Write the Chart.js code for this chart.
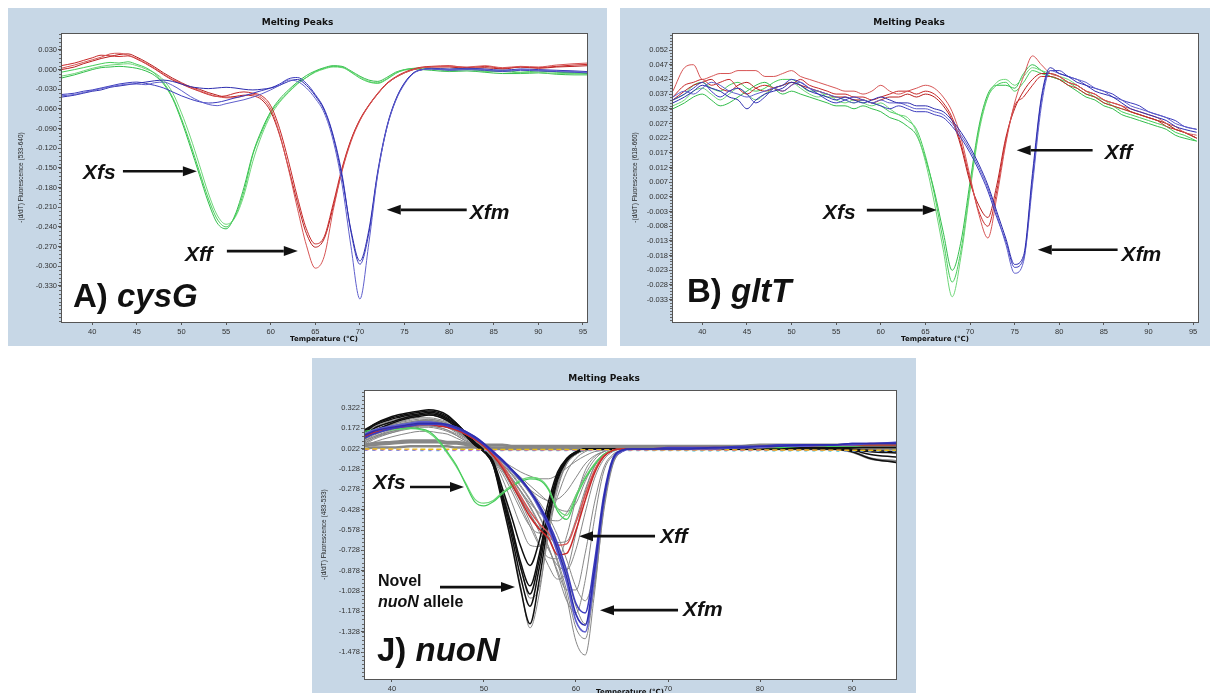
<!DOCTYPE html>
<html>
<head>
<meta charset="utf-8">
<title>Melting Peaks</title>
<script src="https://cdn.jsdelivr.net/npm/chart.js"></script>
<style>
    html, body { margin: 0; padding: 0; background: #fff; overflow: hidden; }
    #page { position: relative; width: 1213px; height: 693px; overflow: hidden; background: #fff; }
    .frame { position: absolute; background: #c7d7e6; }
    .frame canvas { display: block; }
</style>
</head>
<body>
<div id="page">
    <div class="frame" style="left:8px; top:8px; width:599px; height:338px;">
        <canvas id="chartA" width="599" height="338"></canvas>
    </div>
    <div class="frame" style="left:620px; top:8px; width:590px; height:338px;">
        <canvas id="chartB" width="590" height="338"></canvas>
    </div>
    <div class="frame" style="left:312px; top:358px; width:604px; height:341px;">
        <canvas id="chartC" width="604" height="341"></canvas>
    </div>
</div>

<script>
// --- Melting peak curves ---

// --- 1. Data: panel A (cysG) ---
const tempA = [36.5, 38, 39, 40, 41, 42, 43, 44, 45, 46, 47, 48, 49, 50, 51, 52, 53, 54, 55, 56,
    57, 58, 59, 60, 61, 62, 63, 64, 65, 66, 67, 68, 69, 70, 71, 72, 73, 74, 75, 76,
    77, 78, 80, 82, 84, 86, 88, 90, 92, 94, 95.5];

const greenA1 = [-0.004, 0.000, 0.003, 0.006, 0.009, 0.011, 0.010, 0.012, 0.008, 0.003,
    -0.006, -0.020, -0.042, -0.075, -0.113, -0.155, -0.196, -0.228, -0.240, -0.224,
    -0.186, -0.130, -0.095, -0.066, -0.048, -0.034, -0.021, -0.012, -0.003, 0.002,
    0.005, 0.004, -0.004, -0.013, -0.019, -0.021, -0.015, -0.006, 0.000, 0.002,
    0.003, 0.002, 0.000, 0.002, -0.002, -0.001, -0.004, -0.002, -0.004, -0.005, -0.006];
const greenA2 = [-0.010, -0.006, -0.002, 0.002, 0.005, 0.007, 0.008, 0.009, 0.006, 0.001,
    -0.005, -0.016, -0.035, -0.066, -0.103, -0.145, -0.188, -0.222, -0.236, -0.226,
    -0.192, -0.140, -0.100, -0.070, -0.050, -0.035, -0.022, -0.012, -0.004, 0.001,
    0.004, 0.003, -0.003, -0.011, -0.018, -0.020, -0.014, -0.005, -0.001, 0.001,
    0.002, 0.001, -0.002, 0.000, -0.003, -0.003, -0.005, -0.004, -0.006, -0.006, -0.007];
const greenA3 = [-0.013, -0.008, -0.004, 0.000, 0.003, 0.004, 0.005, 0.004, 0.002, -0.002,
    -0.009, -0.022, -0.044, -0.078, -0.118, -0.160, -0.202, -0.234, -0.243, -0.222,
    -0.180, -0.128, -0.092, -0.064, -0.045, -0.031, -0.019, -0.009, -0.002, 0.003,
    0.006, 0.005, -0.002, -0.010, -0.016, -0.018, -0.012, -0.004, 0.000, 0.001,
    0.000, -0.001, -0.003, -0.002, -0.004, -0.006, -0.006, -0.005, -0.007, -0.008, -0.008];

const redA1 = [0.002, 0.007, 0.011, 0.015, 0.019, 0.024, 0.025, 0.022, 0.017, 0.010,
    0.002, -0.007, -0.015, -0.021, -0.027, -0.032, -0.037, -0.041, -0.043, -0.043,
    -0.040, -0.038, -0.043, -0.060, -0.098, -0.152, -0.212, -0.268, -0.303, -0.285,
    -0.215, -0.155, -0.110, -0.078, -0.055, -0.037, -0.022, -0.012, -0.005, 0.000,
    0.003, 0.004, 0.005, 0.004, 0.006, 0.003, 0.005, 0.004, 0.007, 0.009, 0.010];
const redA2 = [0.006, 0.010, 0.014, 0.018, 0.022, 0.021, 0.020, 0.021, 0.016, 0.009,
    0.001, -0.008, -0.016, -0.022, -0.028, -0.033, -0.038, -0.041, -0.040, -0.036,
    -0.034, -0.036, -0.040, -0.055, -0.090, -0.140, -0.195, -0.243, -0.266, -0.255,
    -0.205, -0.150, -0.107, -0.076, -0.054, -0.036, -0.021, -0.011, -0.004, 0.001,
    0.004, 0.005, 0.006, 0.003, 0.005, 0.002, 0.004, 0.003, 0.005, 0.007, 0.008];
const redA3 = [0.000, 0.004, 0.009, 0.013, 0.017, 0.020, 0.023, 0.024, 0.019, 0.012,
    0.004, -0.005, -0.013, -0.020, -0.026, -0.030, -0.035, -0.039, -0.042, -0.041,
    -0.039, -0.040, -0.046, -0.064, -0.100, -0.150, -0.203, -0.250, -0.271, -0.258,
    -0.210, -0.153, -0.108, -0.077, -0.055, -0.037, -0.022, -0.012, -0.005, 0.000,
    0.003, 0.004, 0.004, 0.002, 0.003, 0.001, 0.004, 0.002, 0.004, 0.005, 0.006];

const blueA1 = [-0.040, -0.038, -0.035, -0.032, -0.029, -0.026, -0.024, -0.022, -0.022, -0.023,
    -0.020, -0.019, -0.024, -0.032, -0.041, -0.048, -0.053, -0.055, -0.052, -0.049,
    -0.046, -0.042, -0.037, -0.031, -0.024, -0.016, -0.018, -0.028, -0.044, -0.066,
    -0.108, -0.175, -0.270, -0.350, -0.265, -0.160, -0.090, -0.048, -0.022, -0.006,
    0.000, 0.001, 0.000, 0.001, 0.000, -0.002, 0.000, -0.001, -0.002, -0.003, -0.004];
const blueA2 = [-0.042, -0.039, -0.036, -0.033, -0.031, -0.027, -0.025, -0.023, -0.021, -0.019,
    -0.017, -0.016, -0.018, -0.022, -0.026, -0.028, -0.029, -0.028, -0.027, -0.028,
    -0.030, -0.031, -0.030, -0.028, -0.024, -0.018, -0.015, -0.024, -0.040, -0.062,
    -0.102, -0.165, -0.245, -0.292, -0.245, -0.155, -0.088, -0.046, -0.020, -0.005,
    0.000, 0.002, 0.001, 0.002, 0.001, -0.001, 0.001, 0.000, -0.001, -0.002, -0.003];
const blueA3 = [-0.038, -0.036, -0.033, -0.031, -0.028, -0.025, -0.022, -0.020, -0.019, -0.021,
    -0.024, -0.028, -0.034, -0.040, -0.045, -0.049, -0.051, -0.050, -0.047, -0.043,
    -0.040, -0.036, -0.032, -0.028, -0.022, -0.014, -0.012, -0.021, -0.038, -0.060,
    -0.100, -0.160, -0.248, -0.297, -0.250, -0.158, -0.090, -0.047, -0.021, -0.005,
    0.000, 0.001, -0.001, 0.000, -0.001, -0.003, -0.001, -0.002, -0.003, -0.004, -0.005];

const xTicksA = [40, 45, 50, 55, 60, 65, 70, 75, 80, 85, 90, 95];
const yTicksA = [0.030, 0.000, -0.030, -0.060, -0.090, -0.120, -0.150, -0.180, -0.210, -0.240, -0.270, -0.300, -0.330];

// --- 2. Data: panel B (gltT) ---
const tempB = [36.7, 38, 39, 40, 41, 42, 43, 44, 45, 46, 47, 48, 49, 50, 51, 52, 53, 54, 55, 56,
    57, 58, 59, 60, 61, 62, 63, 64, 65, 66, 67, 68, 69, 70, 71, 72, 73, 74, 75, 76,
    77, 78, 79, 80, 81, 82, 83, 84, 85, 86, 87, 88, 89, 90, 91, 92, 93, 94, 95.4];

const greenB1 = [0.033, 0.035, 0.038, 0.039, 0.037, 0.035, 0.037, 0.039, 0.037, 0.035,
    0.037, 0.039, 0.040, 0.041, 0.039, 0.037, 0.036, 0.037, 0.035, 0.034,
    0.035, 0.034, 0.033, 0.034, 0.032, 0.030, 0.029, 0.024, 0.014, 0.000,
    -0.016, -0.032, -0.018, 0.004, 0.024, 0.036, 0.041, 0.042, 0.040, 0.043,
    0.046, 0.045, 0.044, 0.043, 0.042, 0.040, 0.038, 0.036, 0.035, 0.033,
    0.032, 0.031, 0.030, 0.029, 0.028, 0.027, 0.025, 0.024, 0.022];
const greenB2 = [0.035, 0.037, 0.040, 0.041, 0.039, 0.038, 0.040, 0.041, 0.039, 0.038,
    0.039, 0.041, 0.042, 0.042, 0.040, 0.038, 0.038, 0.036, 0.036, 0.035,
    0.034, 0.035, 0.034, 0.033, 0.031, 0.030, 0.028, 0.025, 0.016, 0.003,
    -0.013, -0.027, -0.016, 0.005, 0.025, 0.036, 0.040, 0.041, 0.038, 0.041,
    0.045, 0.044, 0.043, 0.042, 0.041, 0.039, 0.037, 0.036, 0.034, 0.033,
    0.031, 0.030, 0.029, 0.028, 0.027, 0.026, 0.024, 0.023, 0.021];
const greenB3 = [0.032, 0.034, 0.036, 0.037, 0.035, 0.033, 0.034, 0.036, 0.038, 0.040,
    0.041, 0.039, 0.037, 0.038, 0.037, 0.036, 0.035, 0.034, 0.033, 0.033,
    0.032, 0.033, 0.032, 0.031, 0.029, 0.028, 0.026, 0.023, 0.015, 0.004,
    -0.010, -0.023, -0.013, 0.007, 0.026, 0.037, 0.040, 0.040, 0.039, 0.044,
    0.047, 0.045, 0.043, 0.042, 0.040, 0.038, 0.036, 0.035, 0.033, 0.032,
    0.030, 0.029, 0.028, 0.027, 0.026, 0.025, 0.023, 0.022, 0.021];

const redB1 = [0.038, 0.046, 0.047, 0.042, 0.043, 0.044, 0.044, 0.045, 0.045, 0.045,
    0.043, 0.043, 0.044, 0.045, 0.043, 0.042, 0.041, 0.040, 0.039, 0.038,
    0.038, 0.037, 0.038, 0.040, 0.038, 0.037, 0.038, 0.039, 0.040, 0.039,
    0.036, 0.031, 0.022, 0.009, -0.004, -0.012, 0.002, 0.020, 0.034, 0.043,
    0.050, 0.047, 0.044, 0.043, 0.041, 0.040, 0.038, 0.037, 0.035, 0.034,
    0.033, 0.032, 0.031, 0.030, 0.029, 0.027, 0.026, 0.024, 0.023];
const redB2 = [0.036, 0.040, 0.041, 0.042, 0.040, 0.041, 0.042, 0.039, 0.037, 0.039,
    0.040, 0.039, 0.038, 0.040, 0.042, 0.040, 0.039, 0.038, 0.037, 0.037,
    0.036, 0.036, 0.035, 0.036, 0.037, 0.038, 0.038, 0.037, 0.038, 0.037,
    0.034, 0.029, 0.020, 0.008, -0.003, -0.008, 0.004, 0.021, 0.033, 0.036,
    0.040, 0.043, 0.043, 0.042, 0.040, 0.039, 0.037, 0.036, 0.034, 0.033,
    0.032, 0.031, 0.030, 0.029, 0.028, 0.026, 0.025, 0.024, 0.022];
const redB3 = [0.035, 0.038, 0.040, 0.041, 0.042, 0.039, 0.038, 0.040, 0.041, 0.039,
    0.038, 0.039, 0.040, 0.041, 0.040, 0.039, 0.038, 0.037, 0.036, 0.036,
    0.035, 0.035, 0.034, 0.035, 0.036, 0.036, 0.037, 0.036, 0.037, 0.036,
    0.033, 0.028, 0.019, 0.007, -0.001, -0.005, 0.006, 0.022, 0.032, 0.038,
    0.042, 0.044, 0.044, 0.043, 0.041, 0.040, 0.038, 0.037, 0.035, 0.034,
    0.033, 0.031, 0.030, 0.029, 0.028, 0.027, 0.025, 0.024, 0.022];

const blueB1 = [0.034, 0.036, 0.038, 0.040, 0.039, 0.038, 0.036, 0.035, 0.032, 0.035,
    0.037, 0.038, 0.039, 0.041, 0.040, 0.038, 0.037, 0.036, 0.035, 0.036,
    0.035, 0.034, 0.035, 0.036, 0.035, 0.034, 0.034, 0.033, 0.033, 0.032,
    0.031, 0.028, 0.024, 0.019, 0.013, 0.006, -0.003, -0.012, -0.021, -0.018,
    0.010, 0.036, 0.046, 0.044, 0.043, 0.041, 0.040, 0.038, 0.037, 0.036,
    0.034, 0.032, 0.031, 0.030, 0.029, 0.028, 0.026, 0.025, 0.024];
const blueB2 = [0.036, 0.038, 0.037, 0.039, 0.041, 0.040, 0.038, 0.037, 0.036, 0.037,
    0.038, 0.039, 0.038, 0.040, 0.041, 0.039, 0.038, 0.037, 0.036, 0.035,
    0.034, 0.035, 0.034, 0.035, 0.034, 0.034, 0.033, 0.032, 0.032, 0.031,
    0.030, 0.027, 0.023, 0.018, 0.012, 0.005, -0.004, -0.014, -0.024, -0.020,
    0.006, 0.033, 0.045, 0.044, 0.043, 0.042, 0.041, 0.039, 0.038, 0.036,
    0.035, 0.033, 0.032, 0.031, 0.030, 0.029, 0.027, 0.026, 0.025];
const blueB3 = [0.035, 0.037, 0.039, 0.041, 0.038, 0.036, 0.038, 0.039, 0.037, 0.034,
    0.036, 0.039, 0.040, 0.042, 0.041, 0.039, 0.037, 0.035, 0.034, 0.035,
    0.036, 0.035, 0.034, 0.033, 0.032, 0.033, 0.032, 0.031, 0.031, 0.030,
    0.029, 0.026, 0.022, 0.017, 0.011, 0.004, -0.005, -0.013, -0.022, -0.019,
    0.008, 0.035, 0.045, 0.045, 0.043, 0.042, 0.040, 0.039, 0.038, 0.037,
    0.035, 0.034, 0.033, 0.031, 0.030, 0.029, 0.028, 0.026, 0.025];

const xTicksB = [40, 45, 50, 55, 60, 65, 70, 75, 80, 85, 90, 95];
const yTicksB = [0.052, 0.047, 0.042, 0.037, 0.032, 0.027, 0.022, 0.017, 0.012, 0.007, 0.002,
    -0.003, -0.008, -0.013, -0.018, -0.023, -0.028, -0.033];

// --- 3. Data: panel J (nuoN) ---
const tempC = [37.0, 38, 40, 42, 43, 44, 45, 46, 47, 48, 49, 50, 51, 52, 53, 54, 55, 56, 57, 58,
    59, 60, 61, 62, 63, 64, 65, 66, 68, 70, 72, 75, 78, 80, 82, 85, 88, 90, 92, 94.8];

const blueC1 = [0.12, 0.15, 0.18, 0.20, 0.21, 0.21, 0.21, 0.20, 0.18, 0.15,
    0.11, 0.06, 0.00, -0.06, -0.13, -0.20, -0.29, -0.40, -0.54, -0.72,
    -0.93, -1.20, -1.28, -0.88, -0.36, -0.06, 0.01, 0.02, 0.02, 0.02,
    0.02, 0.03, 0.03, 0.04, 0.04, 0.05, 0.05, 0.06, 0.06, 0.06];
const blueC2 = [0.10, 0.13, 0.17, 0.19, 0.20, 0.20, 0.20, 0.19, 0.17, 0.14,
    0.10, 0.05, -0.01, -0.07, -0.14, -0.21, -0.29, -0.39, -0.52, -0.68,
    -0.88, -1.12, -1.19, -0.82, -0.33, -0.05, 0.01, 0.02, 0.02, 0.03,
    0.03, 0.03, 0.04, 0.04, 0.05, 0.05, 0.05, 0.06, 0.06, 0.07];
const blueC3 = [0.13, 0.16, 0.19, 0.21, 0.22, 0.22, 0.21, 0.20, 0.18, 0.15,
    0.11, 0.06, 0.00, -0.06, -0.13, -0.21, -0.30, -0.42, -0.56, -0.75,
    -0.97, -1.25, -1.33, -0.93, -0.38, -0.07, 0.00, 0.02, 0.02, 0.02,
    0.02, 0.02, 0.03, 0.03, 0.04, 0.04, 0.05, 0.05, 0.06, 0.06];

const redC1 = [0.11, 0.14, 0.17, 0.19, 0.20, 0.20, 0.19, 0.18, 0.16, 0.13,
    0.09, 0.04, -0.03, -0.12, -0.24, -0.36, -0.48, -0.57, -0.64, -0.76,
    -0.75, -0.58, -0.36, -0.16, -0.04, 0.01, 0.02, 0.02, 0.02, 0.02,
    0.02, 0.02, 0.03, 0.03, 0.04, 0.04, 0.05, 0.05, 0.05, 0.05];
const redC2 = [0.12, 0.15, 0.18, 0.19, 0.20, 0.20, 0.20, 0.18, 0.16, 0.13,
    0.09, 0.04, -0.02, -0.10, -0.21, -0.33, -0.44, -0.53, -0.60, -0.69,
    -0.68, -0.52, -0.32, -0.14, -0.03, 0.01, 0.02, 0.02, 0.02, 0.03,
    0.03, 0.03, 0.03, 0.04, 0.04, 0.05, 0.05, 0.05, 0.06, 0.06];

const greenC1 = [0.15, 0.16, 0.17, 0.175, 0.17, 0.15, 0.09, 0.00, -0.10, -0.24,
    -0.37, -0.40, -0.37, -0.31, -0.26, -0.22, -0.20, -0.21, -0.28, -0.44,
    -0.50, -0.34, -0.20, -0.10, -0.02, 0.01, 0.02, 0.02, 0.02, 0.02,
    0.02, 0.02, 0.03, 0.03, 0.03, 0.04, 0.04, 0.04, 0.05, 0.05];
const greenC2 = [0.14, 0.15, 0.16, 0.17, 0.165, 0.14, 0.08, -0.01, -0.11, -0.23,
    -0.35, -0.38, -0.36, -0.30, -0.25, -0.21, -0.19, -0.20, -0.27, -0.42,
    -0.47, -0.32, -0.19, -0.09, -0.02, 0.01, 0.02, 0.02, 0.02, 0.02,
    0.02, 0.03, 0.03, 0.03, 0.04, 0.04, 0.04, 0.05, 0.05, 0.05];

// novel nuoN allele (black)
const blackC1 = [0.16, 0.20, 0.25, 0.28, 0.29, 0.30, 0.29, 0.26, 0.21, 0.14,
    0.07, 0.01, -0.10, -0.38, -0.68, -1.02, -1.27, -0.95, -0.52, -0.21,
    -0.07, -0.01, 0.02, 0.02, 0.02, 0.02, 0.02, 0.02, 0.02, 0.02,
    0.02, 0.02, 0.02, 0.03, 0.03, 0.03, 0.03, 0.02, 0.01, 0.00];
const blackC2 = [0.14, 0.19, 0.24, 0.27, 0.28, 0.29, 0.28, 0.25, 0.20, 0.13,
    0.06, 0.00, -0.10, -0.35, -0.62, -0.93, -1.14, -0.86, -0.47, -0.19,
    -0.06, -0.01, 0.02, 0.02, 0.02, 0.02, 0.02, 0.02, 0.02, 0.02,
    0.02, 0.02, 0.02, 0.02, 0.03, 0.03, 0.02, 0.01, -0.02, -0.04];
const blackC3 = [0.12, 0.17, 0.22, 0.26, 0.27, 0.28, 0.27, 0.24, 0.19, 0.12,
    0.05, 0.00, -0.09, -0.33, -0.58, -0.86, -1.05, -0.80, -0.44, -0.18,
    -0.06, -0.01, 0.02, 0.02, 0.02, 0.02, 0.02, 0.02, 0.02, 0.02,
    0.02, 0.02, 0.02, 0.02, 0.02, 0.02, 0.02, 0.01, 0.00, -0.01];
const blackC4 = [0.15, 0.20, 0.26, 0.29, 0.30, 0.31, 0.30, 0.27, 0.21, 0.14,
    0.07, 0.01, -0.08, -0.31, -0.55, -0.82, -0.99, -0.76, -0.42, -0.17,
    -0.05, 0.00, 0.02, 0.02, 0.02, 0.02, 0.02, 0.02, 0.02, 0.02,
    0.02, 0.02, 0.03, 0.03, 0.03, 0.03, 0.03, 0.03, 0.03, 0.03];
const blackC5 = [0.10, 0.15, 0.21, 0.25, 0.26, 0.27, 0.26, 0.23, 0.18, 0.12,
    0.05, 0.00, -0.07, -0.27, -0.48, -0.70, -0.84, -0.66, -0.37, -0.15,
    -0.05, 0.00, 0.02, 0.02, 0.02, 0.02, 0.02, 0.02, 0.02, 0.02,
    0.02, 0.02, 0.02, 0.02, 0.02, 0.03, 0.02, 0.00, -0.05, -0.08];

// the other isolates (grey)
const grayC1 = [0.14, 0.18, 0.23, 0.26, 0.27, 0.27, 0.26, 0.24, 0.20, 0.15,
    0.10, 0.05, -0.01, -0.08, -0.16, -0.25, -0.35, -0.47, -0.62, -0.82,
    -1.08, -1.40, -1.50, -1.05, -0.42, -0.08, 0.00, 0.02, 0.02, 0.02,
    0.02, 0.02, 0.03, 0.03, 0.03, 0.04, 0.04, 0.04, 0.04, 0.04];
const grayC2 = [0.08, 0.12, 0.17, 0.21, 0.22, 0.23, 0.22, 0.20, 0.17, 0.12,
    0.08, 0.03, -0.02, -0.09, -0.17, -0.26, -0.36, -0.48, -0.62, -0.80,
    -1.03, -1.30, -1.38, -0.98, -0.40, -0.08, 0.00, 0.02, 0.02, 0.02,
    0.02, 0.02, 0.02, 0.03, 0.03, 0.03, 0.03, 0.04, 0.04, 0.04];
const grayC3 = [0.05, 0.09, 0.14, 0.18, 0.19, 0.20, 0.19, 0.18, 0.15, 0.11,
    0.07, 0.02, -0.04, -0.11, -0.20, -0.30, -0.41, -0.54, -0.70, -0.88,
    -1.02, -1.02, -0.75, -0.38, -0.12, -0.02, 0.01, 0.02, 0.02, 0.02,
    0.02, 0.02, 0.02, 0.02, 0.03, 0.03, 0.03, 0.03, 0.03, 0.03];
const grayC4 = [0.12, 0.16, 0.20, 0.23, 0.24, 0.24, 0.23, 0.21, 0.17, 0.12,
    0.07, 0.02, -0.05, -0.13, -0.23, -0.34, -0.46, -0.59, -0.72, -0.84,
    -0.87, -0.72, -0.45, -0.20, -0.06, 0.00, 0.02, 0.02, 0.02, 0.02,
    0.02, 0.02, 0.02, 0.03, 0.03, 0.03, 0.03, 0.03, 0.03, 0.03];
const grayC5 = [0.06, 0.10, 0.15, 0.18, 0.19, 0.19, 0.18, 0.16, 0.13, 0.09,
    0.05, 0.00, -0.06, -0.14, -0.24, -0.35, -0.46, -0.56, -0.63, -0.67,
    -0.66, -0.50, -0.28, -0.11, -0.03, 0.01, 0.02, 0.02, 0.02, 0.02,
    0.02, 0.02, 0.02, 0.02, 0.03, 0.03, 0.03, 0.03, 0.03, 0.03];
const grayC6 = [0.10, 0.13, 0.17, 0.20, 0.21, 0.21, 0.20, 0.18, 0.14, 0.10,
    0.06, 0.01, -0.05, -0.12, -0.20, -0.29, -0.38, -0.45, -0.50, -0.51,
    -0.45, -0.32, -0.17, -0.06, 0.00, 0.02, 0.02, 0.02, 0.02, 0.02,
    0.02, 0.02, 0.02, 0.02, 0.02, 0.03, 0.03, 0.03, 0.03, 0.03];
const grayC7 = [0.04, 0.07, 0.11, 0.14, 0.15, 0.15, 0.14, 0.13, 0.10, 0.07,
    0.04, 0.00, -0.05, -0.10, -0.16, -0.22, -0.28, -0.33, -0.36, -0.35,
    -0.29, -0.19, -0.09, -0.03, 0.00, 0.02, 0.02, 0.02, 0.02, 0.02,
    0.02, 0.02, 0.02, 0.02, 0.02, 0.02, 0.02, 0.02, 0.02, 0.02];
const grayC8 = [0.08, 0.11, 0.15, 0.18, 0.19, 0.19, 0.18, 0.16, 0.12, 0.08,
    0.05, 0.01, -0.03, -0.07, -0.11, -0.15, -0.18, -0.20, -0.20, -0.17,
    -0.12, -0.07, -0.03, 0.00, 0.01, 0.02, 0.02, 0.02, 0.02, 0.02,
    0.02, 0.02, 0.02, 0.02, 0.02, 0.02, 0.02, 0.02, 0.02, 0.02];
const grayC9 = [0.13, 0.17, 0.22, 0.25, 0.26, 0.27, 0.26, 0.23, 0.18, 0.12,
    0.05, 0.00, -0.08, -0.28, -0.54, -0.84, -1.08, -1.00, -0.62, -0.28,
    -0.09, -0.02, 0.01, 0.02, 0.02, 0.02, 0.02, 0.02, 0.02, 0.02,
    0.02, 0.02, 0.02, 0.02, 0.02, 0.02, 0.02, 0.02, 0.01, 0.00];
const grayC10 = [0.09, 0.13, 0.18, 0.21, 0.22, 0.23, 0.22, 0.20, 0.16, 0.11,
    0.05, 0.00, -0.06, -0.20, -0.37, -0.55, -0.69, -0.70, -0.50, -0.25,
    -0.09, -0.02, 0.01, 0.02, 0.02, 0.02, 0.02, 0.02, 0.02, 0.02,
    0.02, 0.02, 0.02, 0.02, 0.02, 0.02, 0.02, 0.02, 0.02, 0.02];
const grayC11 = [0.11, 0.15, 0.20, 0.24, 0.25, 0.25, 0.24, 0.22, 0.18, 0.13,
    0.09, 0.04, -0.01, -0.07, -0.14, -0.22, -0.31, -0.41, -0.54, -0.70,
    -0.90, -1.14, -1.27, -1.00, -0.45, -0.10, 0.00, 0.02, 0.02, 0.02,
    0.02, 0.02, 0.02, 0.03, 0.03, 0.03, 0.04, 0.04, 0.04, 0.04];
const grayC12 = [0.04, 0.05, 0.06, 0.07, 0.07, 0.07, 0.07, 0.06, 0.06, 0.05,
    0.04, 0.04, 0.03, 0.03, 0.03, 0.03, 0.03, 0.03, 0.03, 0.03,
    0.03, 0.03, 0.03, 0.03, 0.03, 0.03, 0.03, 0.03, 0.03, 0.03,
    0.03, 0.03, 0.03, 0.04, 0.04, 0.04, 0.04, 0.04, 0.04, 0.04];
const grayC13 = [0.02, 0.03, 0.03, 0.04, 0.04, 0.04, 0.04, 0.04, 0.03, 0.03,
    0.03, 0.02, 0.02, 0.02, 0.02, 0.02, 0.02, 0.02, 0.02, 0.02,
    0.02, 0.02, 0.02, 0.02, 0.02, 0.02, 0.02, 0.02, 0.02, 0.02,
    0.02, 0.02, 0.02, 0.02, 0.02, 0.02, 0.02, 0.00, -0.05, -0.07];
const grayC14 = [0.07, 0.11, 0.16, 0.20, 0.21, 0.22, 0.21, 0.19, 0.16, 0.11,
    0.06, 0.01, -0.05, -0.13, -0.24, -0.37, -0.52, -0.68, -0.84, -0.94,
    -0.88, -0.60, -0.30, -0.11, -0.03, 0.01, 0.02, 0.02, 0.02, 0.02,
    0.02, 0.02, 0.02, 0.02, 0.02, 0.03, 0.03, 0.03, 0.03, 0.03];
const grayC15 = [0.09, 0.13, 0.18, 0.21, 0.22, 0.22, 0.21, 0.19, 0.15, 0.10,
    0.06, 0.01, -0.06, -0.16, -0.29, -0.43, -0.55, -0.60, -0.52, -0.33,
    -0.15, -0.05, 0.00, 0.02, 0.02, 0.02, 0.02, 0.02, 0.02, 0.02,
    0.02, 0.02, 0.02, 0.02, 0.02, 0.02, 0.02, 0.02, 0.02, 0.02];
const grayC16 = [0.10, 0.14, 0.19, 0.22, 0.23, 0.24, 0.23, 0.21, 0.17, 0.12,
    0.08, 0.03, -0.03, -0.10, -0.19, -0.29, -0.40, -0.53, -0.70, -0.90,
    -1.10, -1.19, -0.95, -0.50, -0.15, -0.03, 0.01, 0.02, 0.02, 0.02,
    0.02, 0.02, 0.02, 0.03, 0.03, 0.03, 0.03, 0.03, 0.03, 0.03];
const grayC17 = [0.06, 0.10, 0.14, 0.17, 0.18, 0.18, 0.17, 0.15, 0.12, 0.08,
    0.05, 0.01, -0.03, -0.08, -0.13, -0.19, -0.25, -0.31, -0.37, -0.42,
    -0.44, -0.38, -0.22, -0.09, -0.02, 0.01, 0.02, 0.02, 0.02, 0.02,
    0.02, 0.02, 0.02, 0.02, 0.02, 0.02, 0.02, 0.02, 0.02, 0.02];
const grayC18 = [0.11, 0.15, 0.19, 0.22, 0.23, 0.23, 0.22, 0.20, 0.16, 0.11,
    0.06, 0.01, -0.05, -0.14, -0.26, -0.40, -0.55, -0.69, -0.78, -0.79,
    -0.62, -0.35, -0.14, -0.04, 0.00, 0.02, 0.02, 0.02, 0.02, 0.02,
    0.02, 0.02, 0.02, 0.02, 0.02, 0.03, 0.03, 0.03, 0.03, 0.03];
const grayC19 = [0.12, 0.17, 0.22, 0.26, 0.27, 0.28, 0.27, 0.24, 0.19, 0.13,
    0.06, 0.00, -0.10, -0.36, -0.66, -1.00, -1.30, -1.05, -0.58, -0.24,
    -0.08, -0.02, 0.01, 0.02, 0.02, 0.02, 0.02, 0.02, 0.02, 0.02,
    0.02, 0.02, 0.02, 0.02, 0.02, 0.02, 0.02, 0.02, 0.02, 0.02];
const grayC20 = [0.09, 0.13, 0.18, 0.21, 0.22, 0.22, 0.21, 0.19, 0.16, 0.11,
    0.07, 0.03, -0.02, -0.07, -0.13, -0.20, -0.28, -0.37, -0.48, -0.62,
    -0.80, -1.00, -1.10, -0.88, -0.40, -0.09, 0.00, 0.02, 0.02, 0.02,
    0.02, 0.02, 0.02, 0.03, 0.03, 0.03, 0.03, 0.03, 0.03, 0.03];
const grayC21 = [0.05, 0.06, 0.07, 0.08, 0.08, 0.08, 0.08, 0.07, 0.07, 0.06,
    0.05, 0.05, 0.05, 0.05, 0.04, 0.04, 0.04, 0.04, 0.04, 0.04,
    0.04, 0.04, 0.04, 0.04, 0.04, 0.04, 0.04, 0.04, 0.04, 0.04,
    0.04, 0.04, 0.04, 0.05, 0.05, 0.05, 0.05, 0.05, 0.05, 0.05];

// no-template controls (flat, dashed)
const tempCtrl = [37.0, 45, 55, 65, 75, 85, 94.8];
const ctrlYellow = [0.020, 0.018, 0.016, 0.015, 0.014, 0.012, 0.010];
const ctrlPink = [0.014, 0.013, 0.012, 0.012, 0.011, 0.010, 0.008];
const ctrlCyan = [0.010, 0.009, 0.008, 0.008, 0.007, 0.006, 0.004];

const xTicksC = [40, 50, 60, 70, 80, 90];
const yTicksC = [0.322, 0.172, 0.022, -0.128, -0.278, -0.428, -0.578, -0.728, -0.878, -1.028, -1.178, -1.328, -1.478];

// --- 4. Annotations (placed in data coordinates) ---
const notesA = {
    labels: [
        { t: 38.96, v: -0.158, size: 21, parts: [{ s: 'Xfs', i: true }] },
        { t: 50.39, v: -0.283, size: 21, parts: [{ s: 'Xff', i: true }] },
        { t: 82.30, v: -0.219, size: 21, parts: [{ s: 'Xfm', i: true }] },
        { t: 37.84, v: -0.348, size: 33, parts: [{ s: 'A) ', i: false }, { s: 'cysG', i: true }] }
    ],
    arrows: [
        { from: 43.44, to: 51.73, v: -0.155 },
        { from: 55.09, to: 63.04, v: -0.277 },
        { from: 81.97, to: 73.01, v: -0.214 }
    ]
};
const notesB = {
    labels: [
        { t: 53.51, v: -0.0035, size: 21, parts: [{ s: 'Xfs', i: true }] },
        { t: 85.09, v: 0.0168, size: 21, parts: [{ s: 'Xff', i: true }] },
        { t: 86.99, v: -0.0177, size: 21, parts: [{ s: 'Xfm', i: true }] },
        { t: 38.28, v: -0.0306, size: 33, parts: [{ s: 'B) ', i: false }, { s: 'gltT', i: true }] }
    ],
    arrows: [
        { from: 58.44, to: 66.28, v: -0.0025 },
        { from: 83.74, to: 75.23, v: 0.0179 },
        { from: 86.54, to: 77.59, v: -0.0160 }
    ]
};
const notesC = {
    labels: [
        { t: 37.94, v: -0.232, size: 21, parts: [{ s: 'Xfs', i: true }] },
        { t: 69.13, v: -0.630, size: 21, parts: [{ s: 'Xff', i: true }] },
        { t: 71.63, v: -1.169, size: 21, parts: [{ s: 'Xfm', i: true }] },
        { t: 38.48, v: -0.962, size: 16, parts: [{ s: 'Novel', i: false }] },
        { t: 38.48, v: -1.110, size: 16, parts: [{ s: 'nuoN', i: true }, { s: ' allele', i: false }] },
        { t: 38.37, v: -1.479, size: 33, parts: [{ s: 'J) ', i: false }, { s: 'nuoN', i: true }] }
    ],
    arrows: [
        { from: 41.96, to: 47.83, v: -0.261 },
        { from: 68.59, to: 60.33, v: -0.623 },
        { from: 71.09, to: 62.61, v: -1.169 },
        { from: 45.22, to: 53.37, v: -0.999 }
    ]
};

// --- 5. Colours ---
const GREEN = ['rgb(70,205,90)', 'rgb(110,215,120)', 'rgb(50,190,75)'];
const RED = ['rgb(200,40,40)', 'rgb(215,85,85)', 'rgb(185,30,30)'];
const BLUE = ['rgb(45,45,175)', 'rgb(95,95,205)', 'rgb(60,60,190)'];
const GRAY = 'rgb(135,135,135)';
const BLACK = 'rgb(15,15,15)';

// --- 6. Plugins ---

// white plot area + dark frame around it
const plotFrame = {
    id: 'plotFrame',
    beforeDraw(chart) {
        const { ctx, chartArea: a } = chart;
        ctx.save();
        ctx.fillStyle = '#fff';
        ctx.fillRect(a.left, a.top, a.right - a.left, a.bottom - a.top);
        ctx.restore();
    },
    afterDraw(chart) {
        const { ctx, chartArea: a } = chart;
        ctx.save();
        ctx.strokeStyle = '#555';
        ctx.lineWidth = 1;
        ctx.strokeRect(Math.round(a.left) + 0.5, Math.round(a.top) + 0.5,
            Math.round(a.right - a.left), Math.round(a.bottom - a.top));
        ctx.restore();
    }
};

// small minor ticks on the y axis, like the instrument software draws
const minorTicks = {
    id: 'minorTicks',
    afterDraw(chart, args, opts) {
        if (!opts.step) return;
        const { ctx, chartArea: a, scales: { y } } = chart;
        ctx.save();
        ctx.strokeStyle = '#666';
        ctx.lineWidth = 1;
        ctx.beginPath();
        const n = Math.ceil((y.max - opts.anchor) / opts.step);
        for (let k = n; opts.anchor + k * opts.step >= y.min; k--) {
            const py = Math.round(y.getPixelForValue(opts.anchor + k * opts.step)) + 0.5;
            if (py < a.top || py > a.bottom) continue;
            ctx.moveTo(a.left - 2, py);
            ctx.lineTo(a.left, py);
        }
        ctx.stroke();
        ctx.restore();
    }
};

function drawArrow(ctx, x0, y0, x1, y1) {
    const dir = Math.sign(x1 - x0);
    const head = 14, half = 5;
    ctx.beginPath();
    ctx.moveTo(x0, y0);
    ctx.lineTo(x1 - dir * head, y1);
    ctx.lineWidth = 2.6;
    ctx.stroke();
    ctx.beginPath();
    ctx.moveTo(x1, y1);
    ctx.lineTo(x1 - dir * head, y1 - half);
    ctx.lineTo(x1 - dir * head, y1 + half);
    ctx.closePath();
    ctx.fill();
}

// strain labels and arrows
const annotate = {
    id: 'annotate',
    afterDatasetsDraw(chart, args, opts) {
        const { ctx, scales: { x, y } } = chart;
        ctx.save();
        ctx.fillStyle = '#111';
        ctx.strokeStyle = '#111';
        (opts.arrows || []).forEach(a => {
            drawArrow(ctx, x.getPixelForValue(a.from), y.getPixelForValue(a.v),
                x.getPixelForValue(a.to), y.getPixelForValue(a.v));
        });
        ctx.textBaseline = 'middle';
        ctx.textAlign = 'left';
        (opts.labels || []).forEach(l => {
            let px = x.getPixelForValue(l.t);
            const py = y.getPixelForValue(l.v);
            l.parts.forEach(p => {
                ctx.font = (p.i ? 'italic ' : '') + 'bold ' + l.size + 'px "Liberation Sans", Arial, sans-serif';
                ctx.fillText(p.s, px, py);
                px += ctx.measureText(p.s).width;
            });
        });
        ctx.restore();
    }
};

// --- 7. Chart builder ---
function series(temps, values, color, width, dash) {
    return {
        data: temps.map((t, i) => ({ x: t, y: values[i] })),
        borderColor: color,
        borderWidth: width || 1,
        borderDash: dash || [],
        pointRadius: 0,
        fill: false,
        cubicInterpolationMode: 'monotone'
    };
}

function makePanel(id, cfg) {
    const tickFont = { family: '"Liberation Sans", Arial, sans-serif', size: 7.5 };
    return new Chart(document.getElementById(id), {
        type: 'line',
        data: { datasets: cfg.datasets },
        plugins: [plotFrame, minorTicks, annotate],
        options: {
            responsive: false,
            animation: false,
            events: [],
            layout: { padding: { top: 0, right: cfg.padRight, bottom: 0, left: 0 } },
            plugins: {
                legend: { display: false },
                tooltip: { enabled: false },
                title: {
                    display: true,
                    text: 'Melting Peaks',
                    color: '#111',
                    font: { family: '"DejaVu Sans", Verdana, sans-serif', size: 9, weight: 'bold', lineHeight: 1.2 },
                    padding: cfg.titlePad
                },
                minorTicks: cfg.minor,
                annotate: cfg.notes
            },
            scales: {
                x: {
                    type: 'linear',
                    min: cfg.xMin,
                    max: cfg.xMax,
                    afterBuildTicks: s => { s.ticks = cfg.xTicks.map(v => ({ value: v })); },
                    afterFit: s => { s.height = cfg.xHeight; },
                    ticks: { font: tickFont, color: '#333', padding: 2, autoSkip: false, maxRotation: 0,
                        callback: v => String(v) },
                    grid: { display: true, drawOnChartArea: false, drawTicks: true, tickLength: 3, color: '#555' },
                    border: { display: true, color: '#555' },
                    title: {
                        display: true,
                        text: 'Temperature (°C)',
                        color: '#111',
                        font: { family: '"DejaVu Sans", Verdana, sans-serif', size: 7, weight: 'bold', lineHeight: 1.2 },
                        padding: { top: 0, bottom: 2.8 }
                    }
                },
                y: {
                    min: cfg.yMin,
                    max: cfg.yMax,
                    afterBuildTicks: s => { s.ticks = cfg.yTicks.map(v => ({ value: v })); },
                    afterFit: s => { s.width = cfg.yWidth; },
                    ticks: { font: tickFont, color: '#333', padding: 1, autoSkip: false,
                        callback: v => v.toFixed(3) },
                    grid: { display: true, drawOnChartArea: false, drawTicks: true, tickLength: 3, color: '#555' },
                    border: { display: true, color: '#555' },
                    title: {
                        display: true,
                        text: cfg.yTitle,
                        color: '#222',
                        font: { family: '"Liberation Sans", Arial, sans-serif', size: 6.5, lineHeight: 1.2 },
                        padding: { top: cfg.yTitlePad, bottom: 0 }
                    }
                }
            }
        }
    });
}

document.addEventListener('DOMContentLoaded', () => {

    // --- Panel A: cysG ---
    makePanel('chartA', {
        datasets: [
            series(tempA, blueA1, BLUE[1]), series(tempA, blueA2, BLUE[0]), series(tempA, blueA3, BLUE[2]),
            series(tempA, redA1, RED[1]), series(tempA, redA2, RED[0]), series(tempA, redA3, RED[2]),
            series(tempA, greenA1, GREEN[0]), series(tempA, greenA2, GREEN[1]), series(tempA, greenA3, GREEN[2])
        ],
        xMin: 36.5, xMax: 95.45, xTicks: xTicksA,
        yMin: -0.3852, yMax: 0.0559, yTicks: yTicksA,
        yTitle: '-(d/dT) Fluorescence (533-640)',
        yWidth: 53, xHeight: 24, padRight: 20,
        titlePad: { top: 9, bottom: 5.2 }, yTitlePad: 9,
        minor: { anchor: 0, step: 0.006 },
        notes: notesA
    });

    // --- Panel B: gltT ---
    makePanel('chartB', {
        datasets: [
            series(tempB, blueB1, BLUE[0]), series(tempB, blueB2, BLUE[1]), series(tempB, blueB3, BLUE[2]),
            series(tempB, redB1, RED[1]), series(tempB, redB2, RED[0]), series(tempB, redB3, RED[2]),
            series(tempB, greenB1, GREEN[1]), series(tempB, greenB2, GREEN[0]), series(tempB, greenB3, GREEN[2])
        ],
        xMin: 36.6, xMax: 95.55, xTicks: xTicksB,
        yMin: -0.0406, yMax: 0.0578, yTicks: yTicksB,
        yTitle: '-(d/dT) Fluorescence (618-660)',
        yWidth: 52, xHeight: 24, padRight: 12,
        titlePad: { top: 9, bottom: 5.2 }, yTitlePad: 11,
        minor: { anchor: 0.002, step: 0.001 },
        notes: notesB
    });

    // --- Panel J: nuoN (draw order: first dataset ends up on top) ---
    makePanel('chartC', {
        datasets: [
            series(tempC, blueC1, BLUE[0], 1.6), series(tempC, blueC2, BLUE[2], 1.6), series(tempC, blueC3, BLUE[1], 1.6),
            series(tempC, redC1, RED[0], 1.5), series(tempC, redC2, RED[1], 1.5),
            series(tempC, greenC1, GREEN[0], 1.2), series(tempC, greenC2, GREEN[1], 1.2),
            series(tempCtrl, ctrlYellow, 'rgb(230,190,20)', 1.4, [5, 3]),
            series(tempCtrl, ctrlPink, 'rgb(215,80,200)', 1.4, [4, 4]),
            series(tempCtrl, ctrlCyan, 'rgb(60,200,220)', 1.4, [3, 5]),
            series(tempC, blackC1, BLACK, 1.5), series(tempC, blackC2, BLACK, 1.5), series(tempC, blackC3, BLACK, 1.5),
            series(tempC, blackC4, BLACK, 1.5), series(tempC, blackC5, BLACK, 1.5),
            series(tempC, grayC1, GRAY), series(tempC, grayC2, GRAY), series(tempC, grayC3, GRAY),
            series(tempC, grayC4, GRAY), series(tempC, grayC5, GRAY), series(tempC, grayC6, GRAY),
            series(tempC, grayC7, GRAY), series(tempC, grayC8, GRAY), series(tempC, grayC9, GRAY),
            series(tempC, grayC10, GRAY), series(tempC, grayC11, GRAY), series(tempC, grayC12, GRAY, 2.5),
            series(tempC, grayC13, GRAY, 2.5), series(tempC, grayC14, GRAY), series(tempC, grayC15, GRAY),
            series(tempC, grayC16, GRAY), series(tempC, grayC17, GRAY), series(tempC, grayC18, GRAY),
            series(tempC, grayC19, GRAY), series(tempC, grayC20, GRAY), series(tempC, grayC21, GRAY, 3)
        ],
        xMin: 36.96, xMax: 94.78, xTicks: xTicksC,
        yMin: -1.677, yMax: 0.455, yTicks: yTicksC,
        yTitle: '-(d/dT) Fluorescence (483-533)',
        yWidth: 52, xHeight: 20, padRight: 20,
        titlePad: { top: 15, bottom: 6.2 }, yTitlePad: 8,
        minor: { anchor: 0.022, step: 0.03 },
        notes: notesC
    });
});
</script>
</body>
</html>
